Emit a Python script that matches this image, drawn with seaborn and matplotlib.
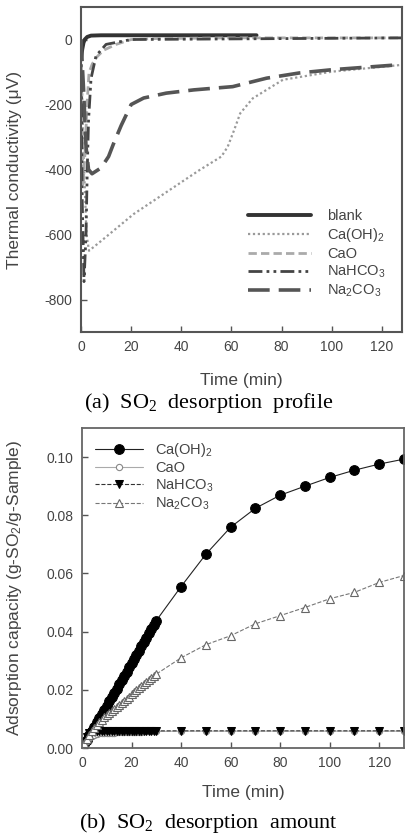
import numpy as np
import pandas as pd
import matplotlib
matplotlib.use('Agg')
import matplotlib.pyplot as plt
import seaborn as sns

# ---- (a) desorption profile, thermal conductivity (uV) vs time (min)
blank_t = [0, 0.5, 1.0, 1.5, 2.5, 4, 8, 20, 40, 70]
blank_v = [-60, -30, -10, 0, 8, 12, 13, 13, 13, 13]

caoh2_t = [0, 1, 2.2, 3.2, 8, 21, 34, 47, 56, 58.5, 61, 63.5, 68.5, 80.5, 100, 128]
caoh2_v = [0, -350, -600, -650, -620, -537, -470, -403, -360, -330, -280, -227, -181, -124, -99, -78]

cao_t = [0, 0.8, 1.6, 2.4, 3.2, 4.5, 6.4, 9, 14, 20, 30, 60, 128]
cao_v = [0, -450, -350, -200, -102, -75, -53, -33, -15, 0, 3, 5, 5]

nahco3_t = [0, 0.5, 1.2, 2.0, 2.5, 3, 4, 6, 10, 20, 128]
nahco3_v = [0, -500, -745, -600, -400, -250, -120, -50, -15, 0, 5]

na2co3_t = [0, 1, 2, 3, 4.4, 8, 11, 13, 16, 20, 25, 34, 45, 60.5, 74, 87, 100, 128]
na2co3_v = [0, -150, -330, -400, -413, -395, -360, -320, -265, -200, -180, -165, -155, -145, -119, -103, -93, -77]

# ---- (b) desorption amount, g-SO2/g-sample vs time (min)
time_b = [0, 1, 2, 3, 4, 5, 6, 7, 8, 9, 10, 11, 12, 13, 14, 15, 16, 17, 18, 19, 20,
          21, 22, 23, 24, 25, 26, 27, 28, 29, 30, 40, 50, 60, 70, 80, 90, 100, 110, 120, 130]
caoh2_amt = [0.0, 0.0015, 0.0029, 0.0044, 0.0058, 0.0073, 0.0088, 0.0102, 0.0117, 0.0131, 0.0146,
             0.0160, 0.0175, 0.0190, 0.0204, 0.0219, 0.0233, 0.0248, 0.0262, 0.0277, 0.0292,
             0.0306, 0.0321, 0.0335, 0.0350, 0.0364, 0.0379, 0.0394, 0.0408, 0.0423, 0.0438,
             0.0555, 0.0666, 0.0759, 0.0824, 0.0869, 0.0900, 0.0930, 0.0955, 0.0976, 0.0993]
cao_amt = [0.0, 0.0012, 0.0024, 0.0034, 0.0041, 0.0045, 0.0048, 0.0050, 0.0051, 0.0052, 0.0052,
           0.0053, 0.0053, 0.0053, 0.0054, 0.0054, 0.0054, 0.0055, 0.0055, 0.0055, 0.0055,
           0.0056, 0.0056, 0.0056, 0.0056, 0.0057, 0.0057, 0.0057, 0.0057, 0.0057, 0.0057,
           0.0058, 0.0058, 0.0058, 0.0058, 0.0058, 0.0058, 0.0058, 0.0058, 0.0058, 0.0058]
nahco3_amt = [0.0, 0.0020, 0.0038, 0.0050, 0.0056, 0.0058, 0.0059, 0.0059, 0.0059, 0.0059, 0.0059,
              0.0059, 0.0059, 0.0059, 0.0059, 0.0059, 0.0059, 0.0059, 0.0059, 0.0059, 0.0059,
              0.0059, 0.0059, 0.0059, 0.0059, 0.0059, 0.0059, 0.0059, 0.0059, 0.0059, 0.0059,
              0.0059, 0.0059, 0.0059, 0.0059, 0.0059, 0.0059, 0.0059, 0.0059, 0.0059, 0.0059]
na2co3_amt = [0.0, 0.0016, 0.0031, 0.0045, 0.0058, 0.0069, 0.0079, 0.0088, 0.0097, 0.0105, 0.0113,
              0.0120, 0.0128, 0.0135, 0.0142, 0.0149, 0.0156, 0.0163, 0.0170, 0.0177, 0.0184,
              0.0191, 0.0198, 0.0205, 0.0212, 0.0219, 0.0226, 0.0233, 0.0240, 0.0247, 0.0254,
              0.0310, 0.0355, 0.0386, 0.0427, 0.0455, 0.0483, 0.0513, 0.0535, 0.0569, 0.0593]

sns.set_style('ticks')
plt.rcParams['font.family'] = ['Liberation Sans', 'DejaVu Sans']
plt.rcParams['mathtext.default'] = 'regular'
plt.rcParams['axes.unicode_minus'] = False

txt = '#444444'
fig = plt.figure(figsize=(4.06, 8.34), dpi=100)

# ---------------- panel (a)
ax1 = fig.add_axes([0.1995, 0.6019, 0.7906, 0.3897])
sns.lineplot(x=blank_t, y=blank_v, ax=ax1, color='#333333', lw=2.8, label='blank', estimator=None)
sns.lineplot(x=caoh2_t, y=caoh2_v, ax=ax1, color='#9a9a9a', lw=1.6,
             linestyle=(0, (1, 1.2)), label='Ca(OH)$_2$', estimator=None)
sns.lineplot(x=cao_t, y=cao_v, ax=ax1, color='#aaaaaa', lw=2.0,
             linestyle=(0, (3, 1.5)), label='CaO', estimator=None)
sns.lineplot(x=nahco3_t, y=nahco3_v, ax=ax1, color='#444444', lw=2.0,
             linestyle=(0, (5, 1.5, 1, 1.5, 1, 1.5)), label='NaHCO$_3$', estimator=None)
sns.lineplot(x=na2co3_t, y=na2co3_v, ax=ax1, color='#555555', lw=2.6,
             linestyle=(0, (6, 2.5)), label='Na$_2$CO$_3$', estimator=None)

ax1.set_xlim(0, 128)
ax1.set_ylim(-900, 100)
ax1.set_xticks([0, 20, 40, 60, 80, 100, 120])
ax1.set_yticks([0, -200, -400, -600, -800])
ax1.set_xlabel('Time (min)', fontsize=12.5, color=txt)
ax1.set_ylabel('Thermal conductivity (\u03bcV)', fontsize=12.5, color=txt)
ax1.xaxis.set_label_coords(0.5, -0.148)
ax1.xaxis.label.set_va('center')
ax1.yaxis.set_label_coords(-0.206, 0.5)
ax1.yaxis.label.set_va('center')
ax1.legend(loc='lower right', frameon=False, fontsize=10.5, handlelength=4.3,
           labelspacing=0.2, handletextpad=1.1, bbox_to_anchor=(0.99, 0.06),
           labelcolor=txt)
for s in ax1.spines.values():
    s.set_color('#555555')
    s.set_linewidth(1.5)

# ---------------- panel (b)
ax2 = fig.add_axes([0.202, 0.1031, 0.793, 0.3837])
sns.lineplot(x=time_b, y=caoh2_amt, ax=ax2, color='#222222', lw=0.8, marker='o', ms=7,
             mfc='black', mec='black', label='Ca(OH)$_2$', estimator=None)
sns.lineplot(x=time_b, y=cao_amt, ax=ax2, color='#aaaaaa', lw=0.8, marker='o', ms=4.5,
             mfc='white', mec='#888888', mew=0.8, label='CaO', estimator=None)
sns.lineplot(x=time_b, y=nahco3_amt, ax=ax2, color='#333333', lw=0.8, linestyle='--',
             marker='v', ms=5.5, mfc='black', mec='black', label='NaHCO$_3$', estimator=None)
sns.lineplot(x=time_b, y=na2co3_amt, ax=ax2, color='#777777', lw=0.8, linestyle='--',
             marker='^', ms=5.5, mfc='white', mec='#666666', mew=0.8,
             label='Na$_2$CO$_3$', estimator=None)

ax2.set_xlim(0, 130)
ax2.set_ylim(0, 0.11)
ax2.set_xticks([0, 20, 40, 60, 80, 100, 120])
ax2.set_yticks([0.0, 0.02, 0.04, 0.06, 0.08, 0.10])
ax2.yaxis.set_major_formatter(matplotlib.ticker.FormatStrFormatter('%.2f'))
ax2.set_xlabel('Time (min)', fontsize=12.5, color=txt)
ax2.set_ylabel('Adsorption capacity (g-SO$_2$/g-Sample)', fontsize=12.5, color=txt)
ax2.xaxis.set_label_coords(0.5, -0.140)
ax2.xaxis.label.set_va('center')
ax2.yaxis.set_label_coords(-0.21, 0.5)
ax2.yaxis.label.set_va('center')
ax2.legend(loc='upper left', frameon=False, fontsize=10.5, handlelength=3.3,
           labelspacing=0.15, handletextpad=0.8, bbox_to_anchor=(0.0, 1.0),
           labelcolor=txt)
for s in ax2.spines.values():
    s.set_color('#666666')
    s.set_linewidth(1.3)

for ax in (ax1, ax2):
    ax.tick_params(direction='in', length=4, width=1.0, color='#555555',
                   labelsize=10, labelcolor=txt, pad=6)

fig.text(0.513, 1 - 403 / 834, '(a)  SO$_2$  desorption  profile', ha='center', va='center',
         fontsize=16, family='Liberation Serif', color='black')
fig.text(0.513, 1 - 823 / 834, '(b)  SO$_2$  desorption  amount', ha='center', va='center',
         fontsize=16, family='Liberation Serif', color='black')

fig.savefig('out.png', dpi=100)
